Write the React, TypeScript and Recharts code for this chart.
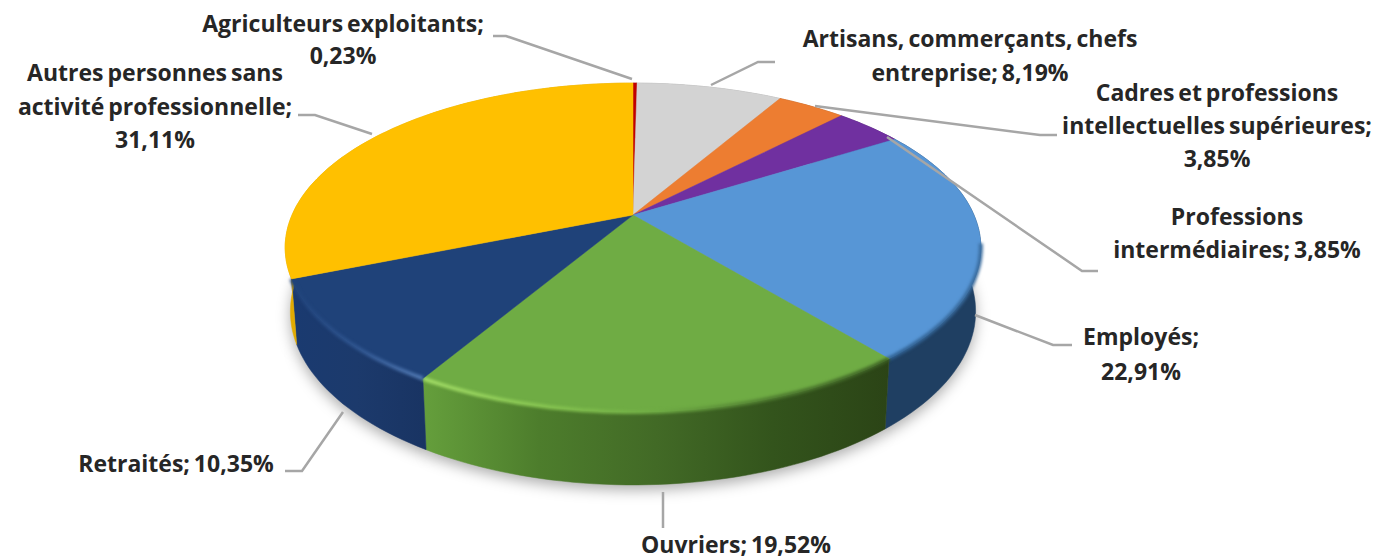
import { PieChart, Pie, Cell } from "recharts";

const CATEGORIES = [
  "Agriculteurs exploitants",
  "Artisans, commerçants, chefs entreprise",
  "Cadres et professions intellectuelles supérieures",
  "Professions intermédiaires",
  "Employés",
  "Ouvriers",
  "Retraités",
  "Autres personnes sans activité professionnelle",
];

const VALUES = [0.23, 8.19, 3.85, 3.85, 22.91, 19.52, 10.35, 31.11];

const COLORS = ["#c00000", "#d3d3d3", "#ed7d31", "#7030a0", "#5796d6", "#6fac44", "#1f4279", "#ffc000"];

// "%v" stands for the formatted value of the slice
const LABEL_LINES = [
  ["Agriculteurs exploitants;", "%v"],
  ["Artisans, commerçants, chefs", "entreprise; %v"],
  ["Cadres et professions", "intellectuelles supérieures;", "%v"],
  ["Professions", "intermédiaires; %v"],
  ["Employés;", "%v"],
  ["Ouvriers; %v"],
  ["Retraités; %v"],
  ["Autres personnes sans", "activité professionnelle;", "%v"],
];

const LABEL_CENTER_X = [343, 970, 1217, 1237, 1141, 736, 176, 155];
const LABEL_FIRST_BASELINE = [32, 47, 101, 225, 345, 553, 472, 81];
const LABEL_LINE_GAP = [32, 34, 33, 33, 35, 0, 0, 33.5];

const LEADERS = [
  [[493, 36], [506, 36], [632, 79]],
  [[775, 62], [758, 62], [711, 85]],
  [[815, 106], [1040, 135], [1057, 135]],
  [[887, 137], [1082, 271], [1098, 271]],
  [[975, 315], [1053, 345], [1072, 345]],
  [[663, 492], [663, 528]],
  [[285, 471], [302, 471], [343, 412]],
  [[298, 115], [315, 115], [372, 134]],
];

// side wall shading, left to right
const WALL_STOPS = [
  ["#8a0000", "#8a0000"],
  ["#a0a0a0", "#a0a0a0"],
  ["#a85820", "#a85820"],
  ["#4c2070", "#4c2070"],
  ["#1f3f62", "#1f3f62"],
  ["#659f3c", "#4d7d2c", "#426a26", "#33541c", "#2b4416"],
  ["#1a3a70", "#1c3a6c", "#193463"],
  ["#e2ab00", "#d9a300"],
];

// highlight along the front rim of the top face
const RIM_STOPS: (string[] | null)[] = [
  null,
  null,
  null,
  null,
  ["#2f5f90", "#3a6c9e"],
  ["#a2dc66", "#88c652", "#6fac44", "#4f7c30", "#3d6124"],
  ["#1f4279", "#2f5590", "#5078b2"],
  null,
];

const Y_RATIO = 158 / 341;
const PERSPECTIVE = 0.1976;
const WALL_SCALE_X = 0.985;
const WALL_DEPTH = 73;
const WALL_GROW = 0.055;

type Pt = [number, number];

// angle in recharts degrees to a point on the tilted top face
function topPoint(cx: number, cy: number, r: number, deg: number): Pt {
  const t = ((90 - deg) * Math.PI) / 180;
  const w = 1 + PERSPECTIVE * Math.cos(t);
  return [cx + (r * Math.sin(t)) / w, cy - (r * Y_RATIO * Math.cos(t)) / w];
}

function bottomPoint(cx: number, cy: number, r: number, deg: number): Pt {
  const [x, y] = topPoint(cx, cy, r, deg);
  const front = cy + (r * Y_RATIO) / (1 - PERSPECTIVE);
  return [cx + (x - cx) * WALL_SCALE_X, y + WALL_DEPTH - (front - y) * WALL_GROW];
}

function arc(fn: (d: number) => Pt, a0: number, a1: number): Pt[] {
  const steps = Math.max(2, Math.ceil(Math.abs(a1 - a0) / 1.5));
  const pts: Pt[] = [];
  for (let i = 0; i <= steps; i++) pts.push(fn(a0 + ((a1 - a0) * i) / steps));
  return pts;
}

const toPath = (pts: Pt[], close = false) =>
  "M" + pts.map((p) => p[0].toFixed(1) + " " + p[1].toFixed(1)).join("L") + (close ? "Z" : "");

function gradient(id: string, stops: string[], x0: number, x1: number) {
  return (
    <linearGradient id={id} gradientUnits="userSpaceOnUse" x1={x0} x2={x1} y1={0} y2={0}>
      {stops.map((c, i) => (
        <stop key={i} offset={i / Math.max(1, stops.length - 1)} stopColor={c} />
      ))}
    </linearGradient>
  );
}

function ShadowShape(props: any) {
  const { cx, cy, outerRadius, startAngle, endAngle } = props;
  const pts = arc((d) => bottomPoint(cx, cy, outerRadius, d), startAngle, endAngle);
  return (
    <path
      d={toPath([[cx, cy + 60], ...pts], true)}
      transform="translate(0 5)"
      fill="#000"
      fillOpacity={0.32}
      style={{ filter: "blur(7px)" }}
    />
  );
}

function WallShape(props: any) {
  const { cx, cy, outerRadius, startAngle, endAngle, index } = props;
  const top = arc((d) => topPoint(cx, cy, outerRadius, d), startAngle, endAngle);
  const bottom = arc((d) => bottomPoint(cx, cy, outerRadius, d), endAngle, startAngle);
  const xs = top.map((p) => p[0]);
  const id = "wall-" + index;
  return (
    <g>
      <defs>{gradient(id, WALL_STOPS[index], Math.min(...xs), Math.max(...xs))}</defs>
      <path d={toPath([...top, ...bottom], true)} fill={`url(#${id})`} stroke={`url(#${id})`} strokeWidth={0.5} />
    </g>
  );
}

function TopShape(props: any) {
  const { cx, cy, outerRadius, startAngle, endAngle, index, fill } = props;
  const top = arc((d) => topPoint(cx, cy, outerRadius, d), startAngle, endAngle);
  const rim = RIM_STOPS[index];
  // only the part of the arc facing the viewer gets a highlight
  const rimFrom = Math.min(startAngle, -10);
  const rimTo = Math.max(endAngle, -170);
  const rimPts = rim ? arc((d) => topPoint(cx, cy, outerRadius, d), rimFrom, rimTo) : [];
  const xs = rimPts.map((p) => p[0]);
  const id = "rim-" + index;
  return (
    <g>
      <path d={toPath([[cx, cy], ...top], true)} fill={fill} stroke={fill} strokeWidth={0.5} />
      {rim && (
        <>
          <defs>{gradient(id, rim, Math.min(...xs), Math.max(...xs))}</defs>
          <path d={toPath(rimPts)} fill="none" stroke={`url(#${id})`} strokeWidth={4} style={{ filter: "blur(1.5px)" }} />
        </>
      )}
    </g>
  );
}

function formatValue(v: number) {
  return v.toFixed(2).replace(".", ",") + "%";
}

function SliceLabel(props: any) {
  const { index } = props;
  const x = LABEL_CENTER_X[index];
  const lines = LABEL_LINES[index].map((l) => l.replace("%v", formatValue(VALUES[index])));
  return (
    <g>
      <polyline
        points={LEADERS[index].map((p) => p.join(",")).join(" ")}
        fill="none"
        stroke="#a6a6a6"
        strokeWidth={2.5}
      />
      <text
        textAnchor="middle"
        fontFamily="'Open Sans', sans-serif"
        fontWeight={700}
        fontSize={23}
        wordSpacing={-2}
        fill="#262626"
      >
        {lines.map((l, i) => (
          <tspan key={i} x={x} y={LABEL_FIRST_BASELINE[index] + i * LABEL_LINE_GAP[index]}>
            {l}
          </tspan>
        ))}
      </text>
    </g>
  );
}

const data = CATEGORIES.map((name, i) => ({ name, value: VALUES[i] }));

export default function App() {
  const pieProps = {
    data,
    dataKey: "value",
    nameKey: "name",
    cx: 633,
    cy: 215,
    outerRadius: 341,
    startAngle: 90,
    endAngle: -270,
    stroke: "none",
    isAnimationActive: false,
  };

  return (
    <div style={{ position: "absolute", left: 0, top: 0, width: 1378, height: 559, background: "#fff" }}>
      <PieChart width={1378} height={559} margin={{ top: 0, right: 0, bottom: 0, left: 0 }}>
        <Pie {...pieProps} shape={ShadowShape} />
        <Pie {...pieProps} shape={WallShape} />
        <Pie {...pieProps} shape={TopShape} label={SliceLabel} labelLine={false}>
          {COLORS.map((c, i) => (
            <Cell key={i} fill={c} />
          ))}
        </Pie>
      </PieChart>
    </div>
  );
}
